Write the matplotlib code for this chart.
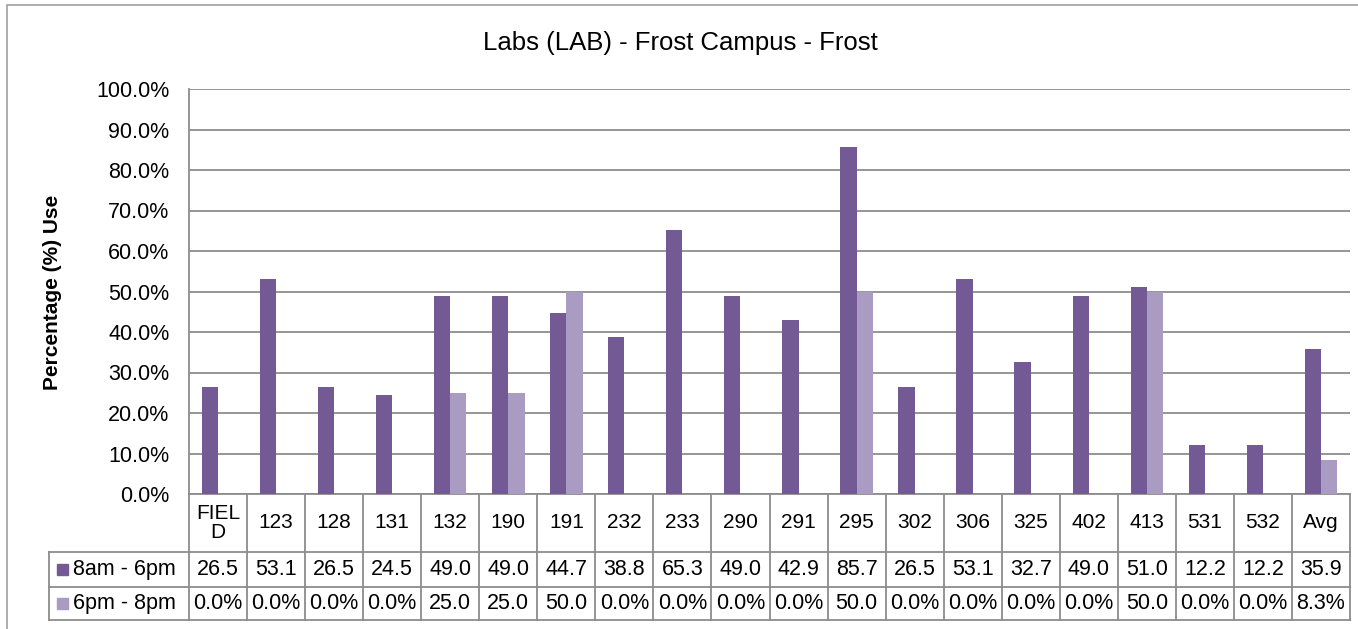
import matplotlib.pyplot as plt
import matplotlib.transforms as transforms
from matplotlib.patches import Rectangle
import numpy as np

rooms = ['FIEL\nD', '123', '128', '131', '132', '190', '191', '232', '233', '290',
         '291', '295', '302', '306', '325', '402', '413', '531', '532', 'Avg']
day = [26.5, 53.1, 26.5, 24.5, 49.0, 49.0, 44.7, 38.8, 65.3, 49.0,
       42.9, 85.7, 26.5, 53.1, 32.7, 49.0, 51.0, 12.2, 12.2, 35.9]
evening = [0.0, 0.0, 0.0, 0.0, 25.0, 25.0, 50.0, 0.0, 0.0, 0.0,
           0.0, 50.0, 0.0, 0.0, 0.0, 0.0, 50.0, 0.0, 0.0, 8.3]
series_names = ['8am - 6pm', '6pm - 8pm']
# text as shown in the data table
day_txt = ['26.5', '53.1', '26.5', '24.5', '49.0', '49.0', '44.7', '38.8', '65.3', '49.0',
           '42.9', '85.7', '26.5', '53.1', '32.7', '49.0', '51.0', '12.2', '12.2', '35.9']
eve_txt = ['0.0%', '0.0%', '0.0%', '0.0%', '25.0', '25.0', '50.0', '0.0%', '0.0%', '0.0%',
           '0.0%', '50.0', '0.0%', '0.0%', '0.0%', '0.0%', '50.0', '0.0%', '0.0%', '8.3%']

c_dark = '#735a94'
c_light = '#a99bc2'
grid_c = '#8c8c8c'

plt.rcParams['font.family'] = ['Liberation Sans', 'DejaVu Sans']

W, H = 1358, 629
fig = plt.figure(figsize=(W / 100, H / 100), dpi=100)

# outer chart border
fig.patches.append(Rectangle((7 / W, -0.1), 1.2, 1 - 5 / H + 0.1, transform=fig.transFigure,
                             fill=False, edgecolor='#a0a0a0', lw=1.2))

left, right, top, bottom = 189, 1350, 89, 494
ax = fig.add_axes([left / W, 1 - bottom / H, (right - left) / W, (bottom - top) / H])

x = np.arange(len(rooms))
bw = 0.28
ax.bar(x - bw / 2, day, bw, color=c_dark, zorder=3)
ax.bar(x + bw / 2, evening, bw, color=c_light, zorder=3)

ax.set_xlim(-0.5, len(rooms) - 0.5)
ax.set_ylim(0, 100)
ax.set_yticks(np.arange(0, 101, 10))
ax.set_yticklabels([f'{v:.1f}%' for v in np.arange(0, 101, 10)], fontsize=15.5)
ax.tick_params(axis='y', length=0, pad=14)
ax.set_xticks([])
ax.grid(axis='y', color=grid_c, lw=1.3, zorder=0)
for s in ['top', 'right']:
    ax.spines[s].set_visible(False)
for s in ['left', 'bottom']:
    ax.spines[s].set_color(grid_c)
    ax.spines[s].set_linewidth(1.3)

fig.text(680 / W, 1 - 43 / H, 'Labs (LAB) - Frost Campus - Frost', ha='center', va='center', fontsize=18.5)
fig.text(52 / W, 1 - 292 / H, 'Percentage (%) Use', rotation=90, ha='center', va='center',
         fontsize=15, fontweight='bold')

# data table below the axis
tr = transforms.blended_transform_factory(ax.transData, ax.transAxes)
ph = bottom - top
y_head = -(552 - bottom) / ph
y_r1 = -(587 - bottom) / ph
y_r2 = -(620 - bottom) / ph
unit = (right - left) / len(rooms)
x_leg = -0.5 - (left - 49) / unit
n = len(rooms)
lk = dict(color=grid_c, lw=1.3, clip_on=False, transform=tr)

for i in range(n + 1):
    ax.plot([i - 0.5, i - 0.5], [0, y_r2], **lk)
ax.plot([x_leg, x_leg], [y_head, y_r2], **lk)
for yy in [y_head, y_r1, y_r2]:
    ax.plot([x_leg, n - 0.5], [yy, yy], **lk)

for i in range(n):
    ax.text(i, y_head / 2, rooms[i], transform=tr, ha='center', va='center', fontsize=15,
            linespacing=1.05)
    ax.text(i, (y_head + y_r1) / 2, day_txt[i], transform=tr, ha='center', va='center', fontsize=15.5)
    ax.text(i, (y_r1 + y_r2) / 2, eve_txt[i], transform=tr, ha='center', va='center', fontsize=15.5)

sq = 11 / unit
for (y0, y1), name, col in zip([(y_head, y_r1), (y_r1, y_r2)], series_names, [c_dark, c_light]):
    ym = (y0 + y1) / 2
    ax.add_patch(Rectangle((x_leg + 8 / unit, ym - 5.5 / ph), sq, 11 / ph, transform=tr,
                           color=col, clip_on=False))
    ax.text(x_leg + 24 / unit, ym, name, transform=tr, ha='left', va='center', fontsize=15.5)

fig.savefig('out.png', dpi=100)
